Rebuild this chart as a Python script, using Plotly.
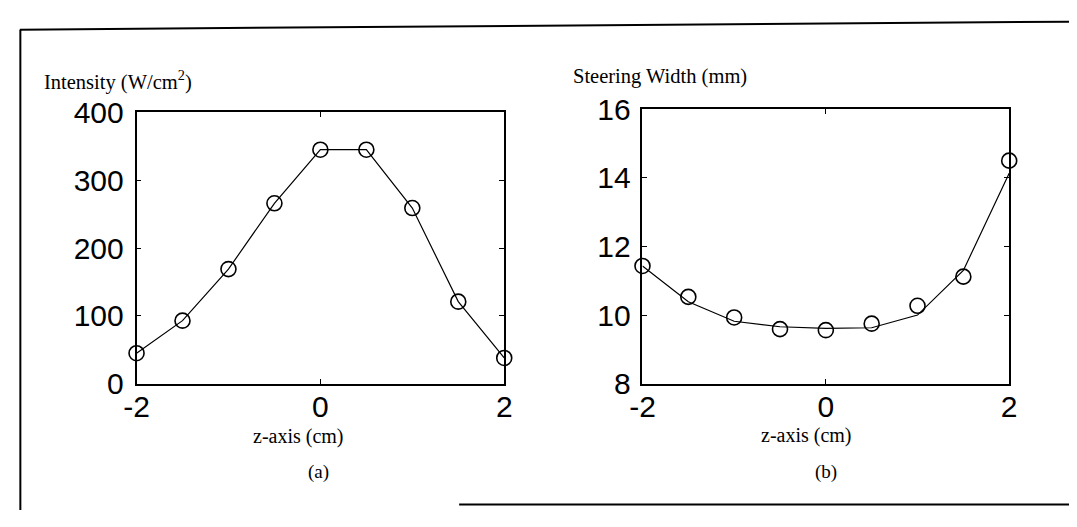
import plotly.graph_objects as go

# z positions (cm) shared by both panels
z_cm = [-2.0, -1.5, -1.0, -0.5, 0.0, 0.5, 1.0, 1.5, 2.0]

# (a) intensity along z
intensity = [45, 93, 169, 266, 345, 345, 259, 121, 38]

# (b) steering width: measured points and fitted curve
width_points = [11.43, 10.53, 9.93, 9.59, 9.56, 9.75, 10.27, 11.12, 14.50]
width_curve = [11.43, 10.39, 9.82, 9.66, 9.61, 9.63, 10.00, 11.30, 14.13]

x_ticks = [-2, 0, 2]
x_tick_text = ["-2", "0", "2"]
y_ticks_a = [0, 100, 200, 300, 400]
y_ticks_b = [8, 10, 12, 14, 16]

W, H = 1077, 527
SERIF = "Liberation Serif, Times New Roman, serif"
SANS = "Liberation Sans, Arial, Helvetica, sans-serif"


def px(x):
    return x / W


def py(y):
    return 1 - y / H


fig = go.Figure()

# panel (a)
fig.add_trace(go.Scatter(
    x=z_cm, y=intensity, mode="lines+markers",
    line=dict(color="black", width=1.2),
    marker=dict(symbol="circle-open", size=15, color="black", line=dict(width=1.6)),
    cliponaxis=False, xaxis="x", yaxis="y", showlegend=False,
))

# panel (b): curve and measured points
fig.add_trace(go.Scatter(
    x=z_cm, y=width_curve, mode="lines",
    line=dict(color="black", width=1.2),
    cliponaxis=False, xaxis="x2", yaxis="y2", showlegend=False,
))
fig.add_trace(go.Scatter(
    x=z_cm, y=width_points, mode="markers",
    marker=dict(symbol="circle-open", size=15, color="black", line=dict(width=1.6)),
    cliponaxis=False, xaxis="x2", yaxis="y2", showlegend=False,
))

axis_common = dict(
    showline=True, linecolor="black", linewidth=1.6, mirror="ticks",
    ticks="inside", ticklen=5, tickwidth=1.4, tickcolor="black",
    showgrid=False, zeroline=False,
    tickfont=dict(family=SANS, size=30, color="black"),
)

fig.update_layout(
    width=W, height=H,
    margin=dict(l=0, r=0, t=0, b=0),
    paper_bgcolor="white", plot_bgcolor="white",
    xaxis=dict(axis_common, domain=[px(126), px(501)], range=[-2, 2],
               tickvals=x_ticks, ticktext=x_tick_text,
               ticklabelstandoff=-5, anchor="y"),
    yaxis=dict(axis_common, domain=[py(392), py(102)], range=[0, 400],
               tickvals=y_ticks_a, ticklabelstandoff=5, anchor="x"),
    xaxis2=dict(axis_common, domain=[px(642), px(1016)], range=[-2, 2],
                tickvals=x_ticks, ticktext=x_tick_text,
                ticklabelstandoff=-5, anchor="y2"),
    yaxis2=dict(axis_common, domain=[py(392), py(98.5)], range=[8, 16],
                tickvals=y_ticks_b, ticklabelstandoff=4, anchor="x2"),
)

annotations = [
    dict(text="Intensity (W/cm<sup>2</sup>)", x=px(30), y=py(68), xanchor="left", yanchor="middle", size=20.5),
    dict(text="Steering Width (mm)", x=px(569), y=py(64), xanchor="left", yanchor="middle", size=20.5),
    dict(text="z-axis (cm)", x=px(291), y=py(448), xanchor="center", yanchor="middle", size=20),
    dict(text="z-axis (cm)", x=px(809), y=py(447), xanchor="center", yanchor="middle", size=20),
    dict(text="(a)", x=px(312), y=py(486), xanchor="center", yanchor="middle", size=19),
    dict(text="(b)", x=px(829), y=py(486), xanchor="center", yanchor="middle", size=19),
]
for a in annotations:
    fig.add_annotation(
        text=a["text"], x=a["x"], y=a["y"], xref="paper", yref="paper",
        xanchor=a["xanchor"], yanchor=a["yanchor"], showarrow=False,
        font=dict(family=SERIF, size=a["size"], color="black"),
    )

# outer frame around both panels
frame = [
    ((7, 13.5), (1077, 5)),
    ((7.5, 13.5), (7.5, 527)),
    ((455, 521), (1077, 521)),
]
for (x0, y0), (x1, y1) in frame:
    fig.add_shape(type="line", xref="paper", yref="paper",
                  x0=px(x0), y0=py(y0), x1=px(x1), y1=py(y1),
                  line=dict(color="black", width=2))

fig.write_html("out.html")
